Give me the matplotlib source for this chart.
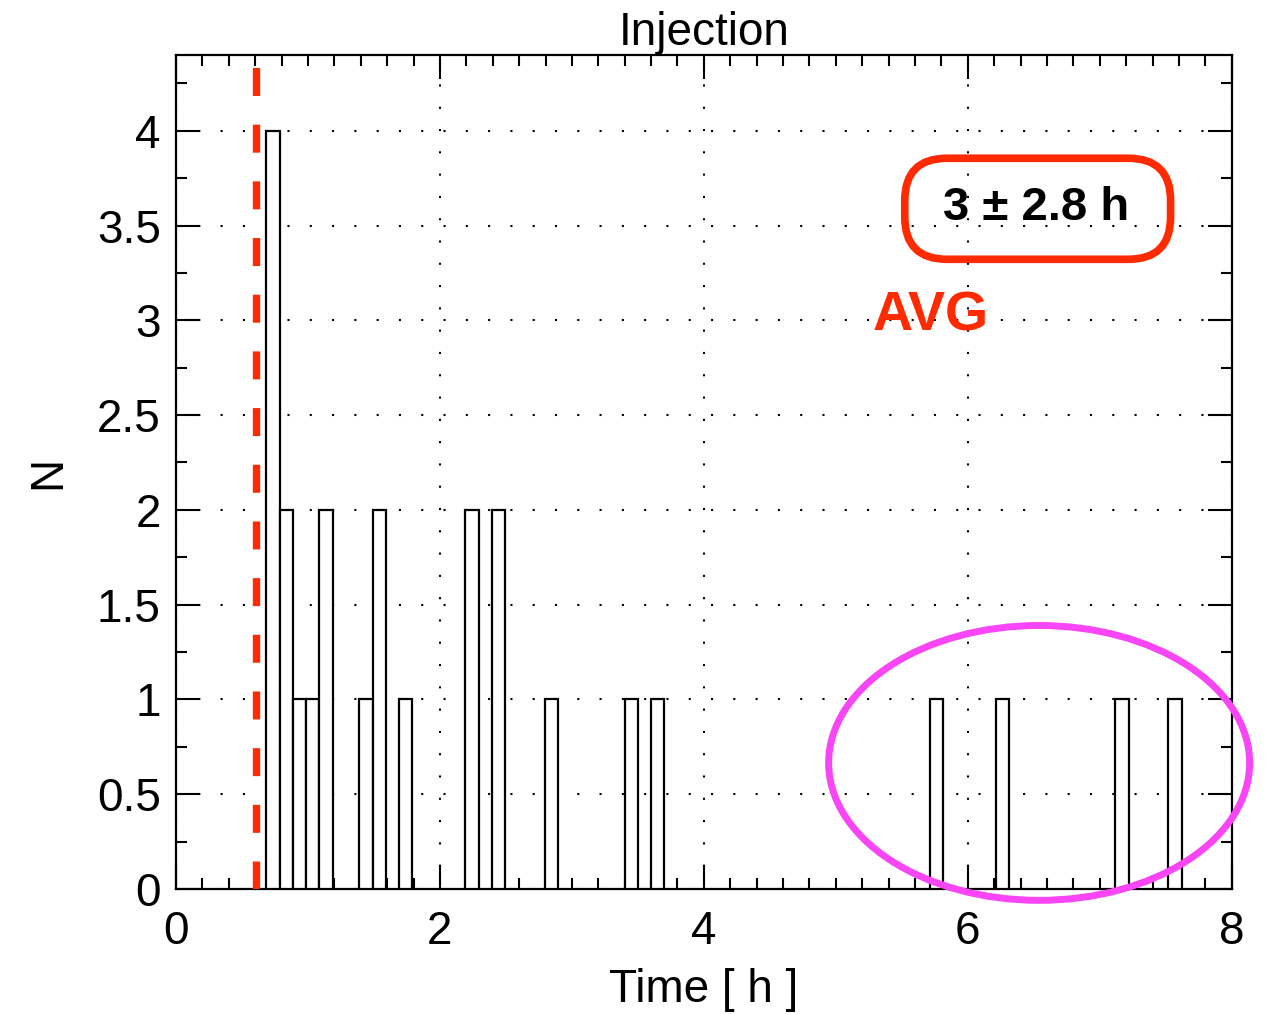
import numpy as np
import matplotlib
matplotlib.use('Agg')
from matplotlib import pyplot as plt
from matplotlib.patches import Ellipse, FancyBboxPatch
from matplotlib.ticker import MultipleLocator

plt.rcParams['font.family'] = ['Liberation Sans', 'DejaVu Sans']

# histogram of injection times: 69 bins between first and last event
t_first = 0.685
t_last = 7.62
n_bins = 69
bin_idx = [0, 1, 2, 3, 4, 7, 8, 10, 15, 17, 21, 27, 29, 50, 55, 64, 68]
counts = [4, 2, 1, 1, 2, 1, 2, 1, 2, 2, 1, 1, 1, 1, 1, 1, 1]

t_cut = 0.61
avg_label = "3 \u00b1 2.8 h"

red = '#ff2a00'
magenta = '#f845f5'

edges = np.linspace(t_first, t_last, n_bins + 1)
width = edges[1] - edges[0]
left = edges[bin_idx]

fig = plt.figure(figsize=(12.66, 10.14), dpi=100)
ax = fig.add_axes([0.139, 0.1233, 0.834, 0.8225])

ax.bar(left, counts, width=width, align='edge', facecolor='white',
       edgecolor='black', linewidth=1.6, zorder=3)

ax.axvline(t_cut, ymin=0, ymax=4.34 / 4.4, color=red, lw=5.3,
           linestyle=(0, (3.8, 3.9)), zorder=4)

ax.set_xlim(0, 8)
ax.set_ylim(0, 4.4)
ax.xaxis.set_major_locator(MultipleLocator(2))
ax.xaxis.set_minor_locator(MultipleLocator(0.2))
ax.yaxis.set_major_locator(MultipleLocator(0.5))
ax.yaxis.set_minor_locator(MultipleLocator(0.25))
ax.set_yticks(np.arange(0, 4.01, 0.5))
ax.set_yticklabels(['0', '0.5', '1', '1.5', '2', '2.5', '3', '3.5', '4'])

ax.tick_params(which='both', direction='in', top=True, right=True,
               labelsize=33, width=1.5)
ax.tick_params(which='major', length=17)
ax.tick_params(which='minor', length=8)
ax.tick_params(axis='x', pad=15)
ax.tick_params(axis='y', pad=11)
for s in ax.spines.values():
    s.set_linewidth(1.6)

ax.grid(True, which='major', color='black', lw=1.5, linestyle=(0, (1, 9.7)))
ax.set_axisbelow(True)

ax.set_title('Injection', fontsize=33, pad=4)
ax.set_xlabel('Time [ h ]', fontsize=33, labelpad=10)
ax.set_ylabel('N', fontsize=33, labelpad=19)

# rounded box with the average value
sx = ax.transData.transform((1, 0))[0] - ax.transData.transform((0, 0))[0]
sy = ax.transData.transform((0, 1))[1] - ax.transData.transform((0, 0))[1]
box = FancyBboxPatch((5.522, 3.322), 2.014, 0.533,
                     boxstyle='round,pad=0,rounding_size=0.32',
                     mutation_aspect=sx / sy, facecolor='none',
                     edgecolor=red, lw=5.5, zorder=5)
ax.add_patch(box)
ax.text(6.52, 3.59, avg_label, fontsize=34, fontweight='bold',
        ha='center', va='center', zorder=6)
ax.text(5.72, 3.02, 'AVG', fontsize=40, fontweight='bold', color=red,
        ha='center', va='center', zorder=6)

ell = Ellipse((6.54, 0.665), 3.19, 1.45, facecolor='none',
              edgecolor=magenta, lw=5, clip_on=False, zorder=6)
ax.add_patch(ell)

plt.savefig('out.png', dpi=100)
